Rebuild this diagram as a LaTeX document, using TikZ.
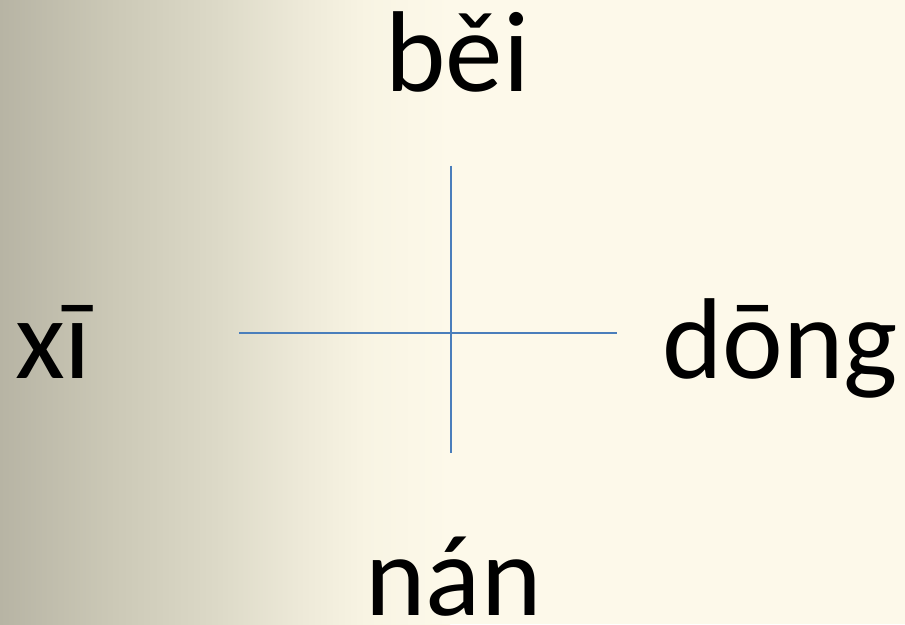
\documentclass[tikz,border=0pt]{standalone}
\usepackage{fontspec}
\setmainfont{Carlito}
\definecolor{bgA}{HTML}{B7B4A4}
\definecolor{bgB}{HTML}{CBC8B6}
\definecolor{bgC}{HTML}{DCD9C7}
\definecolor{bgD}{HTML}{EDE9D8}
\definecolor{bgE}{HTML}{F8F4E3}
\definecolor{cream}{HTML}{FDF9EA}
\definecolor{axisblue}{HTML}{4A7EBB}
\tikzset{
  word/.style={inner sep=0pt, anchor=base, font=\fontsize{115}{138}\selectfont, text=black},
  axisline/.style={draw=axisblue, line width=1.9pt}
}
\begin{document}
\begin{tikzpicture}[x=1pt,y=1pt]
\useasboundingbox (0,0) rectangle (905,624);
% background
\fill[cream] (0,0) rectangle (905,624);
\fill[left color=bgA, right color=bgB] (0,0) rectangle (110,624);
\fill[left color=bgB, right color=bgC] (109.5,0) rectangle (215,624);
\fill[left color=bgC, right color=bgD] (214.5,0) rectangle (300,624);
\fill[left color=bgD, right color=bgE] (299.5,0) rectangle (365,624);
\fill[left color=bgE, right color=cream] (364.5,0) rectangle (450,624);
% axes
\coordinate (vt) at (450.7,458.3);
\coordinate (vb) at (450.7,171.3);
\coordinate (hl) at (239,291);
\coordinate (hr) at (617,291);
\draw[axisline] (vt) -- (vb);
\draw[axisline] (hl) -- (hr);
% labels
\node[word] (bei) at (457.5,532) {běi};
\node[word, anchor=base west] (xi) at (15,245) {xī};
\node[word, anchor=base west] (dong) at (662,245) {dōng};
\node[word] (nan) at (453.5,9) {nán};
\end{tikzpicture}
\end{document}
